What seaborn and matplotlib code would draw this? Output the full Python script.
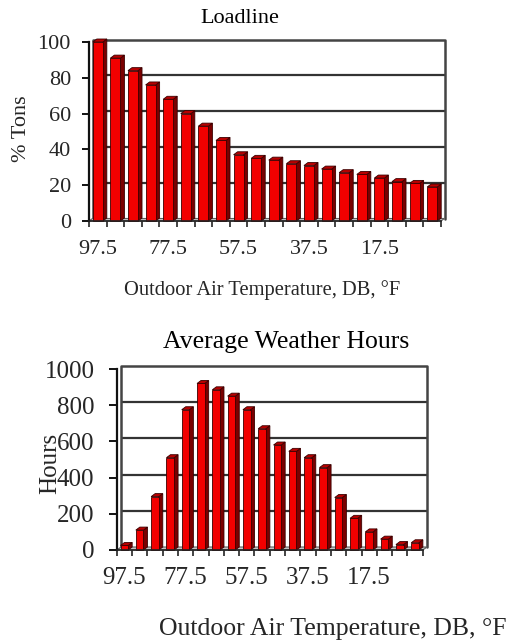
import matplotlib
matplotlib.use("Agg")
import matplotlib.pyplot as plt
import seaborn as sns
import pandas as pd
from matplotlib.patches import Polygon

# Outdoor dry-bulb temperature bins, °F (hottest first)
temps = ["97.5", "92.5", "87.5", "82.5", "77.5", "72.5", "67.5", "62.5", "57.5", "52.5",
         "47.5", "42.5", "37.5", "32.5", "27.5", "22.5", "17.5", "12.5", "7.5", "2.5"]
# Cooling load at each bin, % of design tons
load_pct = [100, 91, 84, 76, 68, 60, 53, 45, 37, 35,
            34, 32, 31, 29, 27, 26, 24, 22, 21, 19]
# Average annual weather hours in each bin
weather_hours = [25, 110, 295, 510, 775, 920, 885, 850, 775, 670,
                 580, 545, 510, 455, 290, 175, 100, 60, 30, 40]
shown_temps = ["97.5", "77.5", "57.5", "37.5", "17.5"]

sns.set_theme(style="white")
plt.rcParams["font.family"] = ["Liberation Serif", "DejaVu Serif"]

W, H = 515, 641
fig = plt.figure(figsize=(W / 100, H / 100), dpi=100)
fig.patch.set_facecolor("white")

FRONT = "#f20000"
SIDE = "#7a0000"
TOPC = "#b80000"
EDGE = "#3a0000"


def px_box(left, top, right, bottom):
    return [left / W, 1 - bottom / H, (right - left) / W, (bottom - top) / H]


def fig_xy(x, y):
    return x / W, 1 - y / H


def draw_3d_bars(ax, values, ymax, yticks, bar_w, wall_px, bar_px,
                 tick_size, ylen, ypad, xpad):
    df = pd.DataFrame({"temp": temps, "value": values})
    sns.barplot(data=df, x="temp", y="value", order=temps, color=FRONT,
                saturation=1, width=bar_w, ax=ax, zorder=5)
    n = len(temps)
    ax.set_xlim(-0.5, n - 0.5)
    ax.set_ylim(0, ymax)

    # pixel -> data conversion for the depth offsets
    pos = ax.get_position()
    sx = n / (pos.width * W)
    sy = ymax / (pos.height * H)
    wdx, wdy = wall_px[0] * sx, wall_px[1] * sy
    bdx, bdy = bar_px[0] * sx, bar_px[1] * sy

    x0, x1 = -0.5, n - 0.5
    # back wall with its gridlines
    wall = Polygon([(x0 + wdx, wdy), (x1 + wdx, wdy), (x1 + wdx, ymax + wdy),
                    (x0 + wdx, ymax + wdy)], closed=True, facecolor="white",
                   edgecolor="none", zorder=0, clip_on=False)
    ax.add_patch(wall)
    for yv in yticks[1:-1]:
        ax.plot([x0 + wdx, x1 + wdx], [yv + wdy, yv + wdy], color="#333333",
                lw=1.6, zorder=1, clip_on=False, solid_capstyle="butt")
    ax.plot([x0 + wdx, x0 + wdx, x1 + wdx, x1 + wdx],
            [wdy, ymax + wdy, ymax + wdy, wdy], color="#444444", lw=1.8,
            zorder=1, clip_on=False)
    # floor
    floor = Polygon([(x0, 0), (x1, 0), (x1 + wdx, wdy), (x0 + wdx, wdy)],
                    closed=True, facecolor="#c4c4c4", edgecolor="#606060",
                    lw=0.8, zorder=2, clip_on=False)
    ax.add_patch(floor)

    # bars: front, side and top faces
    for p in list(ax.patches):
        if p is wall or p is floor:
            continue
        bx, bw, bh = p.get_x(), p.get_width(), p.get_height()
        p.set_facecolor(FRONT)
        p.set_edgecolor(EDGE)
        p.set_linewidth(0.6)
        p.set_zorder(6)
        p.set_clip_on(False)
        side = Polygon([(bx + bw, 0), (bx + bw + bdx, bdy), (bx + bw + bdx, bh + bdy),
                        (bx + bw, bh)], closed=True, facecolor=SIDE,
                       edgecolor=EDGE, lw=0.6, zorder=5, clip_on=False)
        top = Polygon([(bx, bh), (bx + bdx, bh + bdy), (bx + bw + bdx, bh + bdy),
                       (bx + bw, bh)], closed=True, facecolor=TOPC,
                      edgecolor=EDGE, lw=0.6, zorder=5, clip_on=False)
        ax.add_patch(side)
        ax.add_patch(top)

    # axes decoration
    for s in ["top", "right"]:
        ax.spines[s].set_visible(False)
    ax.spines["left"].set_color("#111111")
    ax.spines["left"].set_linewidth(1.6)
    ax.spines["bottom"].set_color("#222222")
    ax.spines["bottom"].set_linewidth(1.2)
    ax.spines["left"].set_zorder(8)
    ax.spines["bottom"].set_zorder(8)
    ax.set_yticks(yticks)
    ax.set_yticklabels([str(v) for v in yticks])
    ax.tick_params(axis="y", direction="out", length=ylen, width=1.4,
                   color="#111111", pad=ypad, labelsize=tick_size, left=True)
    idx = [temps.index(t) for t in shown_temps]
    ax.set_xticks(idx)
    ax.set_xticklabels(shown_temps)
    ax.set_xticks([i - 0.5 for i in range(n + 1)], minor=True)
    ax.tick_params(axis="x", which="major", length=0, pad=xpad,
                   labelsize=tick_size, bottom=True)
    ax.tick_params(axis="x", which="minor", direction="out", length=4,
                   width=1.1, color="#111111", bottom=True)
    ax.set_xlabel("")
    ax.set_ylabel("")
    ax.patch.set_visible(False)


# ---- Loadline ----
ax1 = fig.add_axes(px_box(89, 42, 441, 221))
draw_3d_bars(ax1, load_pct, 100, [0, 20, 40, 60, 80, 100], 0.57,
             (3.5, 2.5), (4, 3), 16, 5, 8, 14)
ax1.set_title("Loadline", fontsize=16, x=(240 - 89) / 352, y=(221 - 23) / 179,
              va="baseline", color="black", pad=0)
ax1.set_ylabel("% Tons", fontsize=16, rotation=90, va="center", ha="center")
ax1.yaxis.set_label_coords(*fig_xy(22, 129), transform=fig.transFigure)
ax1.set_xlabel("Outdoor Air Temperature, DB, °F", fontsize=14.8, va="baseline")
ax1.xaxis.set_label_coords(*fig_xy(262, 295), transform=fig.transFigure)

# ---- Average Weather Hours ----
ax2 = fig.add_axes(px_box(116.7, 369, 422.7, 550))
draw_3d_bars(ax2, weather_hours, 1000, [0, 200, 400, 600, 800, 1000], 0.5,
             (4.5, 3), (4, 3), 18, 6, 10, 12.5)
ax2.set_title("Average Weather Hours", fontsize=18.5,
              x=(286.5 - 116.7) / 306, y=(550 - 348) / 181, va="baseline",
              color="black", pad=0)
ax2.set_ylabel("Hours", fontsize=18, rotation=90, va="center", ha="center")
ax2.yaxis.set_label_coords(*fig_xy(50, 463), transform=fig.transFigure)
ax2.set_xlabel("Outdoor Air Temperature, DB, °F", fontsize=18.5, va="baseline")
ax2.xaxis.set_label_coords(*fig_xy(333, 635), transform=fig.transFigure)

fig.savefig("out.png", dpi=100, facecolor="white")
